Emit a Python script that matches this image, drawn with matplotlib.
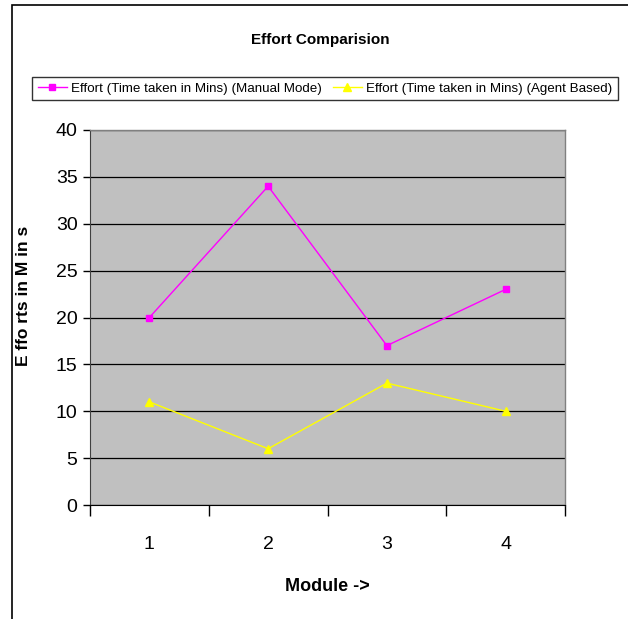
import matplotlib
matplotlib.use("Agg")
import matplotlib.pyplot as plt
from matplotlib.patches import Rectangle

modules = ["1", "2", "3", "4"]
manual = [20, 34, 17, 23]
agent = [11, 6, 13, 10]
yticks = [0, 5, 10, 15, 20, 25, 30, 35, 40]

plt.rcParams["font.family"] = ["Liberation Sans", "DejaVu Sans"]

W, H = 628, 619
fig = plt.figure(figsize=(W / 100, H / 100), dpi=100)
fig.patch.set_facecolor("white")

# outer chart border (top and left visible)
fig.add_artist(Rectangle((12 / W, -0.05), 1.2, 1 - 5 / H + 0.05, transform=fig.transFigure,
                         fill=False, edgecolor="black", linewidth=1.2))

L, R, T, B = 90, 565, 130, 505
ax = fig.add_axes([L / W, 1 - B / H, (R - L) / W, (B - T) / H])
ax.set_facecolor("#C0C0C0")

x = list(range(1, len(modules) + 1))
ax.plot(x, manual, color="#FF00FF", linewidth=1, marker="s", markersize=5,
        label="Effort (Time taken in Mins) (Manual Mode)", zorder=3)
ax.plot(x, agent, color="#FFFF00", linewidth=1, marker="^", markersize=6,
        label="Effort (Time taken in Mins) (Agent Based)", zorder=3)

ax.set_xlim(0.5, len(modules) + 0.5)
ax.set_ylim(0, 40)
ax.set_yticks(yticks)
ax.set_yticklabels([str(v) for v in yticks], fontsize=14)
ax.yaxis.grid(True, color="black", linewidth=0.9)
ax.set_axisbelow(True)

ax.set_xticks([i + 0.5 for i in range(0, len(modules) + 1)])
ax.set_xticklabels([])
ax.set_xticks(x, minor=True)
ax.set_xticklabels(modules, minor=True, fontsize=14)
ax.tick_params(axis="x", which="major", direction="out", length=8, width=1)
ax.tick_params(axis="x", which="minor", length=0, pad=22)
ax.tick_params(axis="y", direction="out", length=5, width=1, pad=4)

for s in ["top", "right"]:
    ax.spines[s].set_color("#808080")
    ax.spines[s].set_linewidth(1)
ax.spines["left"].set_color("#404040")
ax.spines["bottom"].set_color("black")

ax.set_xlabel("Module ->", fontsize=13, fontweight="bold", labelpad=18)
ax.set_ylabel("E ffo rts in M in s", fontsize=12.5, fontweight="bold")
ax.yaxis.set_label_coords(-0.124, 0.557)

fig.text(320 / W, 1 - 40 / H, "Effort Comparision", ha="center", va="center",
         fontsize=11, fontweight="bold")

leg = fig.legend(loc="center", bbox_to_anchor=(325 / W, 1 - 88.5 / H), ncol=2,
                 fontsize=9.6, frameon=True, fancybox=False, edgecolor="black",
                 handlelength=2.2, handletextpad=0.3, columnspacing=0.8,
                 borderpad=0.4, borderaxespad=0)
leg.get_frame().set_linewidth(1)

fig.savefig("out.png", dpi=100)
